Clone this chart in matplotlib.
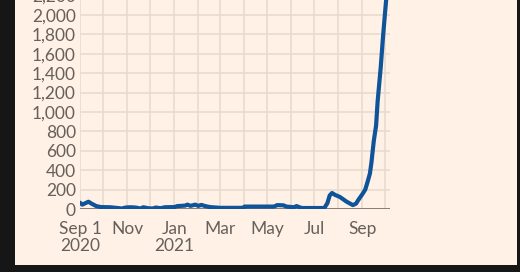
import matplotlib
matplotlib.use("Agg")
import matplotlib.pyplot as plt
from matplotlib.patches import Rectangle
import pandas as pd

# daily cases (7-day avg)
dates = ["2020-09-01", "2020-09-04", "2020-09-08", "2020-09-12", "2020-09-16",
         "2020-09-22", "2020-09-28", "2020-10-10", "2020-10-20", "2020-10-25",
         "2020-10-30", "2020-11-05", "2020-11-12", "2020-11-18", "2020-11-22",
         "2020-11-28", "2020-12-04", "2020-12-08", "2020-12-14", "2020-12-20",
         "2021-01-01", "2021-01-05", "2021-01-15", "2021-01-18", "2021-01-22",
         "2021-01-28", "2021-02-01", "2021-02-05", "2021-02-10", "2021-02-16",
         "2021-03-01", "2021-03-31", "2021-04-02", "2021-05-10", "2021-05-14",
         "2021-05-22", "2021-05-26", "2021-06-05", "2021-06-08", "2021-06-12",
         "2021-06-15", "2021-07-14", "2021-07-18", "2021-07-21", "2021-07-24",
         "2021-07-28", "2021-08-03", "2021-08-12", "2021-08-20", "2021-08-24",
         "2021-08-27", "2021-09-01", "2021-09-05", "2021-09-08", "2021-09-11",
         "2021-09-13", "2021-09-16", "2021-09-19", "2021-09-21", "2021-09-25",
         "2021-09-28", "2021-10-02", "2021-10-04"]
cases = [65, 45, 60, 75, 55,
         30, 20, 18, 10, 5,
         15, 18, 15, 5, 18,
         8, 5, 15, 8, 18,
         20, 30, 35, 45, 32,
         45, 32, 42, 30, 20,
         12, 12, 25, 25, 40,
         38, 25, 18, 30, 18,
         10, 10, 60, 140, 165,
         145, 125, 75, 40, 55,
         93, 150, 200, 280, 365,
         480, 700, 860, 1110, 1460,
         1780, 2155, 2450]

yticks = list(range(0, 2401, 200))
xtick_dates = ["2020-09-01", "2020-11-01", "2021-01-01", "2021-03-01",
               "2021-05-01", "2021-07-01", "2021-09-01"]
xtick_labels = ["Sep 1\n2020", "Nov", "Jan\n2021", "Mar", "May", "Jul", "Sep"]

x = pd.to_datetime(dates)

W, H = 520, 272
fig = plt.figure(figsize=(5.2, 2.72), dpi=100, facecolor="#161616")
fig.add_artist(Rectangle((15 / W, 7.5 / H), 502 / W, 1, transform=fig.transFigure,
                         facecolor="#fff1e5", edgecolor="none", zorder=-5))

px_per_200 = 19.4
ytop = 2400
h = ytop / 200 * px_per_200
ax = fig.add_axes([80 / W, (H - 209) / H, 310 / W, h / H])
ax.set_facecolor("none")

ax.plot(x, cases, color="#0f5499", lw=3.0, solid_joinstyle="round",
        solid_capstyle="round", zorder=3)

ax.set_xlim(pd.Timestamp("2020-09-01"), pd.Timestamp("2021-10-07"))
ax.set_ylim(0, ytop)

months = pd.date_range("2020-09-01", "2021-10-01", freq="MS")
for m in months:
    ax.axvline(m, color="#e7d9cc", lw=1.1, zorder=1)
for v in yticks[1:]:
    ax.axhline(v, color="#e7d9cc", lw=1.1, zorder=1)
ax.axhline(0, color="#7d746d", lw=1.3, zorder=2)

ax.set_yticks(yticks)
ax.set_yticklabels([f"{v:,}" for v in yticks])
ax.set_xticks(pd.to_datetime(xtick_dates))
ax.set_xticklabels(xtick_labels, linespacing=1.12)
ax.tick_params(length=0, labelsize=12.5, colors="#66605c", pad=3)
ax.tick_params(axis="x", pad=8.5)
for lab in ax.get_xticklabels() + ax.get_yticklabels():
    lab.set_fontfamily("Lato")
for s in ax.spines.values():
    s.set_visible(False)

fig.savefig("out.png", dpi=100, facecolor=fig.get_facecolor())
